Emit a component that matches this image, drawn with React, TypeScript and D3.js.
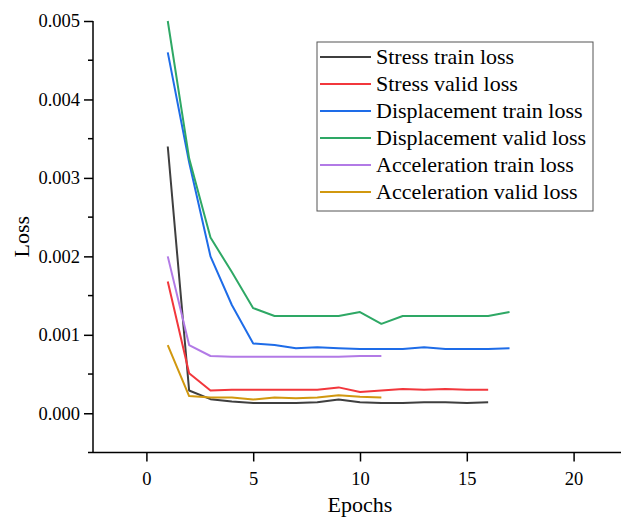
import { useEffect, useRef } from "react";
import * as d3 from "d3";

const EPOCHS = d3.range(1, 18);

const STRESS_TRAIN = [0.0034, 0.00029, 0.00018, 0.00015, 0.00013, 0.00013, 0.00013, 0.00014, 0.000175, 0.00014, 0.00013, 0.00013, 0.00014, 0.00014, 0.00013, 0.00014];
const STRESS_VALID = [0.00168, 0.00051, 0.00029, 0.0003, 0.0003, 0.0003, 0.0003, 0.0003, 0.00033, 0.00027, 0.00029, 0.00031, 0.0003, 0.00031, 0.0003, 0.0003];
const DISP_TRAIN = [0.0046, 0.0032, 0.002, 0.00138, 0.00089, 0.00087, 0.00083, 0.00084, 0.00083, 0.00082, 0.00082, 0.00082, 0.00084, 0.00082, 0.00082, 0.00082, 0.00083];
const DISP_VALID = [0.005, 0.00325, 0.00224, 0.0018, 0.00134, 0.00124, 0.00124, 0.00124, 0.00124, 0.00129, 0.00114, 0.00124, 0.00124, 0.00124, 0.00124, 0.00124, 0.00129];
const ACC_TRAIN = [0.002, 0.00087, 0.00073, 0.00072, 0.00072, 0.00072, 0.00072, 0.00072, 0.00072, 0.00073, 0.00073];
const ACC_VALID = [0.00087, 0.00022, 0.0002, 0.0002, 0.000175, 0.0002, 0.00019, 0.0002, 0.00023, 0.00021, 0.0002];

const SERIES = [
  { name: "Stress train loss", values: STRESS_TRAIN, color: "#3f3f3f" },
  { name: "Stress valid loss", values: STRESS_VALID, color: "#f2373c" },
  { name: "Displacement train loss", values: DISP_TRAIN, color: "#1e6ce8" },
  { name: "Displacement valid loss", values: DISP_VALID, color: "#2ea865" },
  { name: "Acceleration train loss", values: ACC_TRAIN, color: "#b27ae6" },
  { name: "Acceleration valid loss", values: ACC_VALID, color: "#d1980f" },
];

const X_TICKS = [0, 5, 10, 15, 20];
const Y_TICKS = [0, 0.001, 0.002, 0.003, 0.004, 0.005];

const FONT = "'Liberation Serif', 'Times New Roman', serif";

export default function App() {
  const svgRef = useRef<SVGSVGElement>(null);

  useEffect(() => {
    const svg = svgRef.current;
    if (!svg) return;
    const s = d3.select(svg);
    s.selectAll("*").remove();

    const x = d3.scaleLinear().domain([-2.5, 22.5]).range([93, 627]);
    const y = d3.scaleLinear().domain([-0.0005, 0.005]).range([452.5, 21]);

    // lines
    const line = d3
      .line<number>()
      .x((_, i) => x(EPOCHS[i]))
      .y((d) => y(d));

    s.append("g")
      .selectAll("path")
      .data(SERIES)
      .join("path")
      .attr("d", (d) => line(d.values))
      .attr("fill", "none")
      .attr("stroke", (d) => d.color)
      .attr("stroke-width", 2)
      .attr("stroke-linejoin", "round");

    // y axis
    const minor = d3.range(-0.0005, 0.00501, 0.0005).filter((v) => !Y_TICKS.some((t) => Math.abs(t - v) < 1e-9));
    const gy = s.append("g").attr("transform", "translate(93,0)");
    gy.call(
      d3.axisLeft(y).tickValues(Y_TICKS).tickSize(9).tickPadding(4).tickFormat(d3.format(".3f")),
    );
    gy.append("g")
      .selectAll("line")
      .data(minor)
      .join("line")
      .attr("x1", -5)
      .attr("x2", 0)
      .attr("y1", (d) => y(d))
      .attr("y2", (d) => y(d))
      .attr("stroke", "#000")
      .attr("stroke-width", 1.5);

    // x axis
    const gx = s.append("g").attr("transform", "translate(0,452.5)");
    gx.call(d3.axisBottom(x).tickValues(X_TICKS).tickSize(9).tickPadding(10).tickFormat(d3.format("d")));

    [gx, gy].forEach((g) => {
      g.select(".domain").attr("stroke", "#000").attr("stroke-width", 1.5);
      g.selectAll(".tick line").attr("stroke", "#000").attr("stroke-width", 1.5);
      g.selectAll("text").attr("fill", "#000").attr("font-size", 18.5).style("font-family", FONT);
    });
    gx.select(".domain").attr("d", "M93,0H627");
    gy.select(".domain").attr("d", "M0,21V452.5");

    // axis titles
    s.append("text")
      .attr("x", 360)
      .attr("y", 512)
      .attr("text-anchor", "middle")
      .attr("font-size", 22)
      .style("font-family", FONT)
      .text("Epochs");
    s.append("text")
      .attr("transform", "translate(29,236.7) rotate(-90)")
      .attr("text-anchor", "middle")
      .attr("font-size", 22)
      .style("font-family", FONT)
      .text("Loss");

    // legend
    const lg = s.append("g").attr("transform", "translate(317,42)");
    lg.append("rect")
      .attr("width", 276)
      .attr("height", 169)
      .attr("fill", "#fff")
      .attr("stroke", "#555")
      .attr("stroke-width", 1);
    const row = lg
      .selectAll("g.row")
      .data(SERIES)
      .join("g")
      .attr("class", "row")
      .attr("transform", (_, i) => `translate(0,${15 + i * 27})`);
    row.append("line")
      .attr("x1", 3)
      .attr("x2", 54)
      .attr("stroke", (d) => d.color)
      .attr("stroke-width", 2);
    row.append("text")
      .attr("x", 59)
      .attr("y", 7)
      .attr("font-size", 22)
      .style("font-family", FONT)
      .text((d) => d.name);
  }, []);

  return (
    <svg
      ref={svgRef}
      width={621}
      height={518}
      style={{ position: "absolute", left: 0, top: 0, background: "#fff" }}
    />
  );
}
